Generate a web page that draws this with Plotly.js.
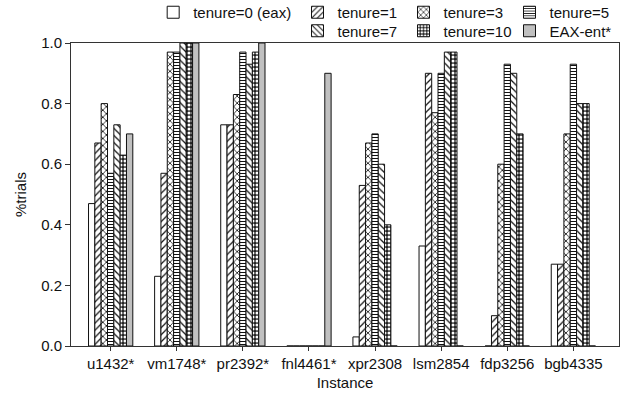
<!DOCTYPE html>
<html>
<head>
<meta charset="utf-8">
<script src="https://cdn.plot.ly/plotly-3.0.1.min.js"></script>
<style>html,body{margin:0;padding:0;background:#fff;}#chart{width:633px;height:399px;}</style>
</head>
<body>
<div id="chart"></div>
<script>
const instances = ["u1432*", "vm1748*", "pr2392*", "fnl4461*", "xpr2308", "lsm2854", "fdp3256", "bgb4335"];
const seriesNames = ["tenure=0 (eax)", "tenure=1", "tenure=3", "tenure=5", "tenure=7", "tenure=10", "EAX-ent*"];
const tenure0 = [0.47, 0.23, 0.73, 0.0, 0.03, 0.33, 0.0, 0.27];
const tenure1 = [0.67, 0.57, 0.73, 0.0, 0.53, 0.90, 0.10, 0.27];
const tenure3 = [0.80, 0.97, 0.83, 0.0, 0.67, 0.77, 0.60, 0.70];
const tenure5 = [0.57, 0.97, 0.97, 0.0, 0.70, 0.90, 0.93, 0.93];
const tenure7 = [0.73, 1.00, 0.93, 0.0, 0.60, 0.97, 0.90, 0.80];
const tenure10 = [0.63, 1.00, 0.97, 0.0, 0.40, 0.97, 0.70, 0.80];
const eaxEnt = [0.70, 1.00, 1.00, 0.90, 0.0, 0.0, 0.0, 0.0];
const yTickVals = [0, 0.2, 0.4, 0.6, 0.8, 1.0];
const yTickText = ["0.0", "0.2", "0.4", "0.6", "0.8", "1.0"];

const values = [tenure0, tenure1, tenure3, tenure5, tenure7, tenure10, eaxEnt];
const styles = [
  {color: "#ffffff", pattern: {shape: ""}, legend: "legend"},
  {color: "#ffffff", pattern: {shape: "/", fgcolor: "#111", bgcolor: "#fff", size: 5, solidity: 0.25}, legend: "legend2"},
  {color: "#ffffff", pattern: {shape: "x", fgcolor: "#111", bgcolor: "#fff", size: 5, solidity: 0.3}, legend: "legend2"},
  {color: "#ffffff", pattern: {shape: "-", fgcolor: "#111", bgcolor: "#fff", size: 3, solidity: 0.35}, legend: "legend2"},
  {color: "#ffffff", pattern: {shape: "\\", fgcolor: "#111", bgcolor: "#fff", size: 5, solidity: 0.25}, legend: "legend3"},
  {color: "#222222", pattern: {shape: ".", fgcolor: "#fff", bgcolor: "#222", size: 4, solidity: 0.45}, legend: "legend3"},
  {color: "#c0c0c0", pattern: {shape: ""}, legend: "legend3"}
];

const data = values.map((v, i) => ({
  type: "bar",
  name: seriesNames[i],
  x: instances,
  y: v,
  legend: styles[i].legend,
  marker: {
    color: styles[i].color,
    pattern: styles[i].pattern,
    line: {color: "#111", width: 1}
  }
}));

const font = {family: "Liberation Sans, Arial, sans-serif", size: 15, color: "#111"};
function legendAt(x, y, ew) {
  const lg = {
    orientation: "h", xref: "container", yref: "container",
    x: x, xanchor: "left", y: y, yanchor: "middle",
    font: font, bgcolor: "rgba(0,0,0,0)", traceorder: "normal"
  };
  if (ew) lg.entrywidth = ew;
  return lg;
}

const layout = {
  width: 633, height: 399,
  margin: {l: 71, r: 14, t: 43, b: 53, autoexpand: false},
  paper_bgcolor: "#fff", plot_bgcolor: "#fff",
  font: font,
  barmode: "group",
  bargap: 0.33,
  bargroupgap: 0,
  showlegend: true,
  legend: legendAt(0.242, 0.9687),
  legend2: legendAt(0.47, 0.9687, 61),
  legend3: legendAt(0.47, 0.9223, 61),
  xaxis: {
    type: "category",
    range: [-0.6, 7.69],
    showline: true, linecolor: "#333", linewidth: 1, mirror: true,
    ticks: "outside", ticklen: 4, tickcolor: "#333",
    showgrid: false, zeroline: false,
    tickfont: font,
    title: {text: "Instance", font: font, standoff: 6}
  },
  yaxis: {
    range: [0, 1],
    tickvals: yTickVals, ticktext: yTickText,
    showline: true, linecolor: "#333", linewidth: 1, mirror: true,
    ticks: "outside", ticklen: 5, tickcolor: "#333",
    showgrid: false, zeroline: false,
    tickfont: font,
    title: {text: "%trials", font: font, standoff: 10}
  }
};

Plotly.newPlot("chart", data, layout, {displayModeBar: false, staticPlot: true});
</script>
</body>
</html>
